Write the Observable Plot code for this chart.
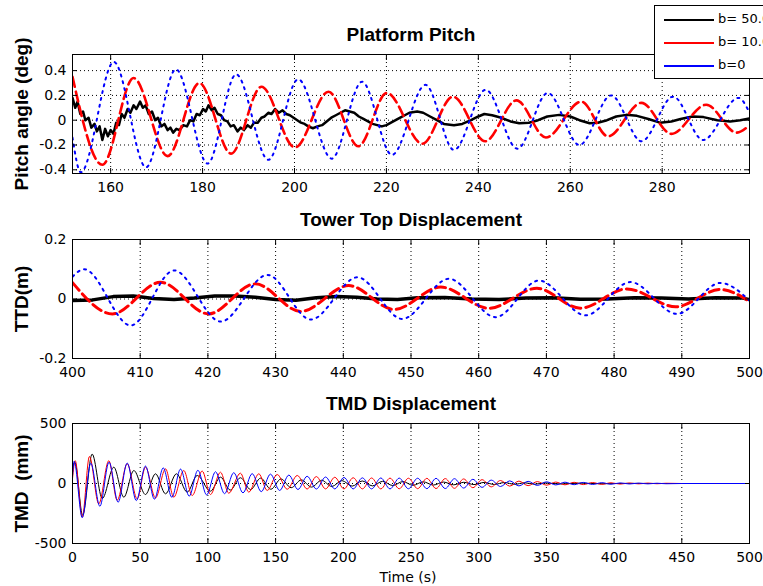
<!DOCTYPE html>
<html>
<head>
<meta charset="utf-8">
<script src="https://cdn.jsdelivr.net/npm/d3@7"></script>
<script src="https://cdn.jsdelivr.net/npm/@observablehq/plot@0.6"></script>
<style>
  html, body { margin: 0; padding: 0; background: #fff; }
  #wrap { position: relative; width: 763px; height: 586px; overflow: hidden; background: #fff; }
  #wrap svg { display: block; }
  #legend { position: absolute; left: 654px; top: 5px; width: 150px; height: 72px; border: 1px solid #000; background: #fff; font: 13px "DejaVu Sans", sans-serif; color: #000; }
  #legend .row { position: absolute; left: 0; height: 20px; width: 150px; }
  #legend .swatch { position: absolute; left: 9px; top: 9px; width: 50px; height: 1.6px; }
  #legend .lab { position: absolute; left: 63px; top: 1px; white-space: pre; }
</style>
</head>
<body>
<div id="wrap"><div id="legend"></div></div>
<script>
// ---------- Data ----------
const legendLabels = ["b= 50.0", "b= 10.0", "b=0"];
const legendColors = ["#000000", "#ff0000", "#0000ff"];

const pitchTitle = "Platform Pitch";
const pitchYLabel = "Pitch angle (deg)";
const pitchTicksX = [160, 180, 200, 220, 240, 260, 280];
const pitchTicksY = [-0.4, -0.2, 0, 0.2, 0.4];

// [time (s), pitch (deg)]
const pitchB50 = [[151.7,0.18],[152.3,0.10],[152.8,0.15],[153.4,0.05],[154,0.07],[154.5,0.0],[155.2,0.02],[155.8,-0.06],[156.5,-0.03],[157,-0.09],[157.6,-0.05],[158.2,-0.16],[158.8,-0.07],[159.4,-0.13],[160,-0.08],[160.6,-0.11],[161.2,-0.02],[161.8,-0.04],[162.4,0.05],[163,0.02],[163.7,0.09],[164.3,0.06],[165,0.12],[165.6,0.09],[166.4,0.15],[167,0.10],[167.6,0.12],[168.3,0.05],[169,0.07],[169.7,0.0],[170.3,0.02],[171,-0.05],[171.7,-0.03],[172.4,-0.08],[173,-0.06],[173.6,-0.10],[174.3,-0.07],[175,-0.08],[175.8,-0.04],[176.6,-0.05],[177.3,0.0],[178,-0.01],[178.7,0.05],[179.4,0.04],[180.1,0.09],[180.7,0.07],[181.3,0.12],[182,0.08],[182.6,0.10],[183.3,0.05],[184,0.04],[184.7,0.0],[185.4,-0.01],[186.1,-0.05],[186.8,-0.04],[187.6,-0.09],[188.3,-0.06],[189,-0.08],[189.8,-0.04],[190.5,-0.06],[191.2,-0.02],[192,-0.02],[192.8,0.02],[193.5,0.03],[194.3,0.06],[195,0.05],[195.8,0.09],[196.6,0.06],[197.4,0.08],[198.2,0.05],[199,0.04],[199.8,0.02],[200.6,0.0],[201.4,-0.02],[202.2,-0.03],[203,-0.05],[204,-0.065],[205,-0.05],[206,-0.04],[207,-0.01],[208,0.02],[209,0.04],[210,0.06],[211,0.08],[212,0.07],[213,0.06],[214,0.03],[215,0.01],[216,-0.01],[217,-0.03],[218,-0.04],[219,-0.05],[220,-0.04],[221,-0.02],[222,0.0],[223,0.02],[224,0.04],[225,0.06],[226.7,0.07],[228,0.06],[229.5,0.03],[231,0.0],[232.5,-0.03],[234.7,-0.04],[236.5,-0.03],[238.4,0.0],[240,0.03],[241.3,0.05],[243,0.04],[245,0.02],[247,-0.01],[248.9,-0.025],[251,-0.02],[253,0.0],[255,0.03],[257.6,0.043],[260,0.03],[262,0.0],[264.2,-0.025],[266,-0.02],[268,0.0],[270,0.03],[272.2,0.043],[274.5,0.035],[277,0.01],[279.5,-0.02],[282,-0.01],[284,0.01],[286.6,0.03],[289,0.025],[292,0.0],[294.8,-0.01],[297,0.0],[299,0.015]];
const pitchB10 = [[151.7,0.35],[158.2,-0.36],[165,0.34],[172.4,-0.29],[179.3,0.30],[186.2,-0.27],[192.8,0.27],[200.1,-0.22],[207.4,0.23],[213.9,-0.21],[220.1,0.22],[227.8,-0.19],[234.5,0.19],[241.5,-0.17],[248.3,0.16],[254.7,-0.14],[262.4,0.15],[268.2,-0.13],[275.5,0.14],[282,-0.11],[289.6,0.125],[296.2,-0.10],[299,-0.04]];
const pitchB0 = [[151.7,-0.14],[153.5,-0.42],[160.7,0.47],[167.7,-0.38],[174.2,0.41],[181.1,-0.35],[187.3,0.37],[194.3,-0.32],[200.8,0.33],[208.1,-0.31],[214.7,0.31],[221.2,-0.28],[228.5,0.285],[234.7,-0.24],[241.6,0.245],[248.5,-0.23],[255.1,0.22],[262,-0.20],[268.9,0.20],[275.5,-0.17],[282.4,0.19],[288.9,-0.16],[296.6,0.18],[299,0.06]];

const ttdTitle = "Tower Top Displacement";
const ttdYLabel = "TTD(m)";
const ttdTicksX = [400, 410, 420, 430, 440, 450, 460, 470, 480, 490, 500];
const ttdTicksY = [-0.2, 0, 0.2];

// [time (s), displacement (m)]
const ttdB50 = [[400,-0.005],[403,-0.003],[406,0.008],[409,0.01],[412,0.002],[415,-0.002],[418,0.003],[421,0.01],[424,0.01],[427,0.006],[430,-0.002],[433,-0.004],[436,0.004],[439,0.008],[442,0.006],[445,0.0],[448,-0.002],[451,0.004],[455,0.005],[459,0.0],[463,-0.002],[467,0.003],[471,0.004],[475,-0.001],[479,0.0],[483,0.004],[487,0.003],[491,0.0],[495,0.004],[499,0.003],[500,-0.002]];
const ttdB10 = [[400,0.055],[405.9,-0.05],[413,0.056],[420.1,-0.05],[427,0.051],[433.7,-0.042],[440.8,0.045],[447.5,-0.035],[454.4,0.04],[461.5,-0.031],[468.6,0.036],[475,-0.031],[481.9,0.034],[489.1,-0.026],[495.7,0.032],[500,-0.008]];
const ttdB0 = [[400,0.075],[401.7,0.10],[408.6,-0.089],[415,0.096],[421.9,-0.076],[428.8,0.081],[435.2,-0.069],[442.1,0.073],[448.7,-0.067],[455.6,0.068],[462.5,-0.061],[468.9,0.062],[475.8,-0.055],[482.4,0.057],[489.3,-0.05],[495.7,0.054],[500,-0.005]];

const tmdTitle = "TMD Displacement";
const tmdYLabel = "TMD\u00a0\u00a0(mm)";
const tmdXLabel = "Time (s)";
const tmdTicksX = [0, 50, 100, 150, 200, 250, 300, 350, 400, 450, 500];
const tmdTicksY = [-500, 0, 500];

// [time (s), displacement (mm)]
const tmdB50 = [[0,120],[1.8,175],[7.5,-265],[14.5,245],[22,-125],[30.5,136],[37.9,-114],[45.3,108],[53.9,-92],[61.3,81],[68.7,-86],[76.8,81],[84.7,-72],[92.1,67],[101.9,-64],[109.3,53],[116.5,-55],[124,48],[131.5,-50],[139,45],[146.5,-48],[154,38],[161.5,-35],[169,30],[176.5,-30],[184,27],[191.5,-25],[199,24],[206.5,-22],[214,21],[221.5,-20],[229,18],[236.5,-17],[244,16],[251.5,-15],[259,14],[266.5,-13],[274,12],[281.5,-11],[289,10],[296.5,-9],[304,9],[311.5,-8],[319,8],[326.5,-7],[334,6],[341.5,-6],[349,5],[360,-4],[375,3],[390,-2],[410,1],[440,0],[500,0]];
const tmdB10 = [[0,40],[2,190],[7.2,-280],[12.5,225],[19.4,-170],[26.8,190],[33,-140],[40.4,164],[47.8,-128],[53.9,136],[61.3,-120],[68.7,122],[74.8,-114],[82.2,108],[88.4,-100],[95.8,104],[101.9,-92],[109.3,94],[115.4,-81],[124,86],[130.2,-72],[137.6,81],[143.8,-58],[151.2,75],[158.6,-48],[166,67],[173.3,-46],[180.1,58],[186.9,-45],[193.7,52],[200.5,-45],[207.3,48],[214.1,-45],[220.9,46],[227.7,-45],[234.5,45],[241.3,-44],[248.1,44],[254.9,-43],[261.7,43],[268.5,-42],[275.3,41],[282.1,-40],[288.9,38],[295.7,-35],[302.5,32],[309.3,-28],[316.1,25],[322.9,-22],[329.7,20],[336.5,-18],[343.3,16],[350.1,-14],[356.9,12],[363.7,-11],[370.5,10],[377.3,-9],[384.1,8],[390.9,-7],[397.7,6],[404.5,-5],[411.3,4],[418.1,-3],[424.9,3],[431.7,-2],[438.5,2],[450,0],[500,0]];
const tmdB0 = [[0,60],[1.2,185],[7.2,-285],[13.5,170],[20.2,-190],[27,178],[33.7,-156],[40.4,170],[47.1,-142],[53.9,145],[60.5,-130],[67,130],[73.4,-115],[79.8,120],[86.2,-105],[92.6,110],[99.1,-95],[105.6,98],[112.3,-85],[119.1,90],[125.9,-78],[132.7,82],[139.4,-68],[146.2,78],[153,-58],[159.8,70],[166.5,-50],[173.3,60],[180.1,-46],[186.9,54],[193.7,-45],[200.5,50],[207.3,-45],[214.1,47],[220.9,-45],[227.7,46],[234.5,-45],[241.3,45],[248.1,-44],[254.9,44],[261.7,-43],[268.5,43],[275.3,-42],[282.1,40],[288.9,-38],[295.7,35],[302.5,-32],[309.3,28],[316.1,-25],[322.9,22],[329.7,-20],[336.5,18],[343.3,-16],[350.1,14],[356.9,-12],[363.7,11],[370.5,-10],[377.3,9],[384.1,-8],[390.9,7],[397.7,-6],[404.5,5],[411.3,-4],[418.1,3],[424.9,-3],[431.7,2],[438.5,-2],[450,0],[500,0]];

// ---------- Drawing ----------
const TITLE_FONT = '"Liberation Sans", Arial, sans-serif';
const fmt = d => String(d);
const dotted = {stroke: "#000", strokeOpacity: 1, strokeWidth: 1, strokeDasharray: "1,3"};

function panel(o) {
  const line = (data, style) => Plot.line(data, {x: d => d[0], y: d => d[1], clip: true, ...style});
  const marks = [
    Plot.gridX(o.gridX, dotted),
    Plot.gridY(o.gridY, dotted),
    ...o.series.map(s => line(s.data, s.style)),
    Plot.frame({stroke: "#000", strokeWidth: 1}),
    Plot.axisX(o.xTicks, {anchor: "bottom", tickSize: 5, insetBottom: 5, fill: "none", stroke: "#000", label: null}),
    Plot.axisX(o.xTicks, {anchor: "top", tickSize: 5, insetTop: 5, fill: "none", stroke: "#000", label: null}),
    Plot.axisY(o.yTicks, {anchor: "left", tickSize: 5, insetLeft: 5, fill: "none", stroke: "#000", label: null}),
    Plot.axisY(o.yTicks, {anchor: "right", tickSize: 5, insetRight: 5, fill: "none", stroke: "#000", label: null}),
    Plot.axisX(o.xTicks, {anchor: "bottom", tickSize: 0, tickPadding: 9, tickFormat: fmt, fill: "#000", label: null}),
    Plot.axisY(o.yTicks, {anchor: "left", tickSize: 0, tickPadding: 6, tickFormat: fmt, fill: "#000", label: null}),
    Plot.text([o.title], {text: d => d, frameAnchor: "top", textAnchor: "middle", lineAnchor: "middle", dy: -20, fontWeight: "bold", fontSize: 19, fontFamily: TITLE_FONT, fill: "#000"}),
    Plot.text([o.ylabel], {text: d => d, frameAnchor: "left", textAnchor: "middle", lineAnchor: "middle", dx: -51, rotate: -90, fontWeight: "bold", fontSize: 19, fontFamily: TITLE_FONT, fill: "#000"}),
    o.xlabel ? Plot.text([o.xlabel], {text: d => d, frameAnchor: "bottom", textAnchor: "middle", lineAnchor: "middle", dy: 34, dx: -3, fontSize: 14, fill: "#000"}) : null
  ];
  return Plot.plot({
    width: 763,
    height: o.height,
    marginLeft: 72,
    marginRight: 14,
    marginTop: o.marginTop,
    marginBottom: o.marginBottom,
    x: {type: "linear", domain: o.xDomain},
    y: {type: "linear", domain: o.yDomain},
    style: {fontFamily: '"DejaVu Sans", sans-serif', fontSize: "14px", color: "#000", background: "#fff", overflow: "visible"},
    marks
  });
}

const thick = {
  b50: {stroke: "#000", strokeWidth: 2.5},
  b10: {stroke: "#ff0000", strokeWidth: 2.6, strokeDasharray: "10,5", curve: "monotone-x"},
  b0: {stroke: "#0000ff", strokeWidth: 2, strokeDasharray: "2,5", curve: "monotone-x"}
};

const wrap = document.getElementById("wrap");

wrap.appendChild(panel({
  height: 203, marginTop: 54, marginBottom: 30,
  xDomain: [151.7, 299], yDomain: [-0.43, 0.53],
  xTicks: pitchTicksX, yTicks: pitchTicksY,
  gridX: pitchTicksX, gridY: pitchTicksY,
  title: pitchTitle, ylabel: pitchYLabel,
  series: [
    {data: pitchB50, style: thick.b50},
    {data: pitchB10, style: thick.b10},
    {data: pitchB0, style: thick.b0}
  ]
}));

wrap.appendChild(panel({
  height: 185, marginTop: 36, marginBottom: 30,
  xDomain: [400, 500], yDomain: [-0.2, 0.2],
  xTicks: ttdTicksX, yTicks: ttdTicksY,
  gridX: ttdTicksX.slice(1, -1), gridY: [0],
  title: ttdTitle, ylabel: ttdYLabel,
  series: [
    {data: ttdB50, style: {stroke: "#000", strokeWidth: 3.5}},
    {data: ttdB10, style: {...thick.b10, strokeWidth: 3}},
    {data: ttdB0, style: thick.b0}
  ]
}));

wrap.appendChild(panel({
  height: 198, marginTop: 35, marginBottom: 43,
  xDomain: [0, 500], yDomain: [-500, 500],
  xTicks: tmdTicksX, yTicks: tmdTicksY,
  gridX: tmdTicksX.slice(1, -1), gridY: [0],
  title: tmdTitle, ylabel: tmdYLabel, xlabel: tmdXLabel,
  series: [
    {data: tmdB50, style: {stroke: "#000", strokeWidth: 1, curve: "monotone-x"}},
    {data: tmdB10, style: {stroke: "#ff0000", strokeWidth: 1, curve: "monotone-x"}},
    {data: tmdB0, style: {stroke: "#0000ff", strokeWidth: 1, curve: "monotone-x"}}
  ]
}));

// Legend (drawn on top, partly cut off by the window edge as in the reference)
const legend = document.getElementById("legend");
legendLabels.forEach((lab, i) => {
  const row = document.createElement("div");
  row.className = "row";
  row.style.top = (4 + i * 23) + "px";
  const sw = document.createElement("div");
  sw.className = "swatch";
  sw.style.background = legendColors[i];
  const tx = document.createElement("div");
  tx.className = "lab";
  tx.textContent = lab;
  row.appendChild(sw);
  row.appendChild(tx);
  legend.appendChild(row);
});
</script>
</body>
</html>
